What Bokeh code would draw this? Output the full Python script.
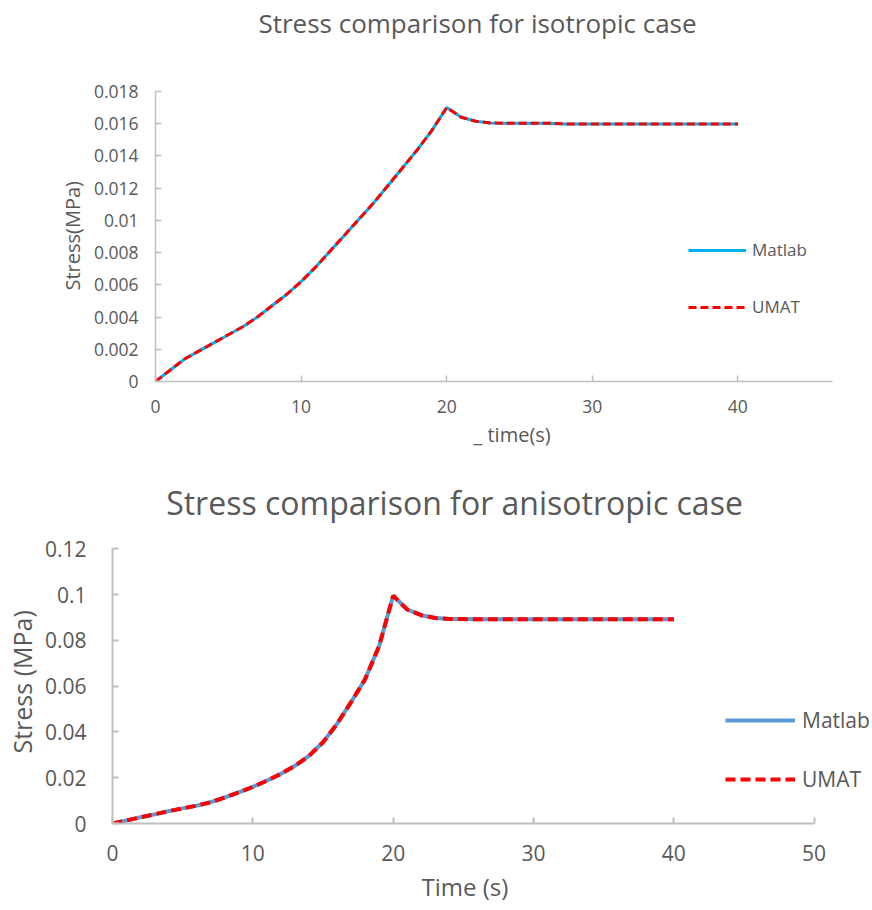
from bokeh.plotting import figure
from bokeh.models import Range1d, FixedTicker, Legend, LegendItem, Label, Title
from bokeh.embed import file_html
from bokeh.resources import INLINE

# ---------------- data ----------------
time_s = list(range(0, 41))

iso_matlab = [0.0000, 0.0007, 0.0014, 0.0019, 0.0024, 0.0029, 0.0034, 0.0040, 0.0047, 0.0054,
              0.0062, 0.0071, 0.0081, 0.0091, 0.0101, 0.0111, 0.0122, 0.0133, 0.0144, 0.0156,
              0.0170, 0.0164, 0.01615, 0.01605, 0.01603, 0.01603, 0.01603, 0.01603, 0.01599, 0.01598,
              0.01598, 0.01598, 0.01598, 0.01598, 0.01598, 0.01598, 0.01598, 0.01598, 0.01598, 0.01598,
              0.01598]
iso_umat = list(iso_matlab)

aniso_matlab = [0.0000, 0.0013, 0.0027, 0.0040, 0.0054, 0.0066, 0.0078, 0.0093, 0.0114, 0.0136,
                0.0160, 0.0187, 0.0217, 0.0252, 0.0295, 0.0355, 0.0435, 0.0530, 0.0630, 0.0775,
                0.0995, 0.0935, 0.0910, 0.0898, 0.0894, 0.0893, 0.0892, 0.0892, 0.0892, 0.0892,
                0.0892, 0.0892, 0.0892, 0.0892, 0.0892, 0.0892, 0.0892, 0.0892, 0.0892, 0.0892,
                0.0892]
aniso_umat = list(aniso_matlab)

iso_xticks = [0, 10, 20, 30, 40]
iso_yticks = [0, 0.002, 0.004, 0.006, 0.008, 0.010, 0.012, 0.014, 0.016, 0.018]
iso_ylabels = ["0", "0.002", "0.004", "0.006", "0.008", "0.01", "0.012", "0.014", "0.016", "0.018"]

aniso_xticks = [0, 10, 20, 30, 40, 50]
aniso_yticks = [0, 0.02, 0.04, 0.06, 0.08, 0.10, 0.12]
aniso_ylabels = ["0", "0.02", "0.04", "0.06", "0.08", "0.1", "0.12"]

TXT = "#595959"
AX = "#BFBFBF"
FONT = "Open Sans"


def style(p, tick_size, xstand, ystand, axis_w):
    p.grid.visible = False
    p.outline_line_color = None
    for ax in (p.xaxis[0], p.yaxis[0]):
        ax.axis_line_color = AX
        ax.axis_line_width = axis_w
        ax.major_tick_line_color = AX
        ax.major_tick_line_width = axis_w
        ax.major_tick_in = 6
        ax.major_tick_out = 0
        ax.minor_tick_line_color = None
        ax.major_label_text_font = FONT
        ax.major_label_text_font_size = tick_size
        ax.major_label_text_color = TXT
    p.xaxis[0].major_label_standoff = xstand
    p.yaxis[0].major_label_standoff = ystand


def side_title(p, text, side, size, offset, standoff):
    p.add_layout(Title(text=text, align="left", offset=offset, standoff=standoff,
                       text_font=FONT, text_font_size=size, text_font_style="normal",
                       text_color=TXT), side)


# ---------------- top chart ----------------
# frame covers the title area; axis lines limited with bounds
p1 = figure(width=872, height=460, output_backend="svg", toolbar_location=None,
            x_range=Range1d(0, 46.5), y_range=Range1d(0, 0.023648),
            min_border_left=155, min_border_right=40, min_border_top=0, min_border_bottom=79)

r1a = p1.line(time_s, iso_matlab, line_color="#00B0F0", line_width=3)
r1b = p1.line(time_s, iso_umat, line_color="#FF0000", line_width=3, line_dash="8 4")

p1.xaxis.ticker = FixedTicker(ticks=iso_xticks)
p1.yaxis.ticker = FixedTicker(ticks=iso_yticks)
p1.yaxis.bounds = (0, 0.018)
p1.yaxis.major_label_overrides = {t: s for t, s in zip(iso_yticks, iso_ylabels)}
style(p1, "17.5px", 18, 17, 1.5)
side_title(p1, "Stress(MPa)", "left", "20px", 91, 9)
side_title(p1, "_ time(s)", "below", "20px", 318, 6)

p1.add_layout(Label(x=322, y=359, x_units="screen", y_units="screen",
                    text="Stress comparison for isotropic case", text_align="center",
                    text_baseline="middle", text_font=FONT, text_font_size="26px",
                    text_color=TXT))

leg1 = Legend(items=[LegendItem(label="Matlab", renderers=[r1a]),
                     LegendItem(label="UMAT", renderers=[r1b])],
              location=(533, 63), orientation="vertical",
              glyph_width=58, glyph_height=20, label_height=20, spacing=34,
              padding=0, margin=0, border_line_color=None, background_fill_alpha=0,
              label_standoff=6, label_text_font=FONT, label_text_font_size="17px",
              label_text_color=TXT)
p1.add_layout(leg1)

# ---------------- bottom chart ----------------
p2 = figure(width=872, height=450, output_backend="svg", toolbar_location=None,
            x_range=Range1d(0, 54.16), y_range=Range1d(0, 0.1586),
            min_border_left=111, min_border_right=0, min_border_top=0, min_border_bottom=87)

r2a = p2.line(time_s, aniso_matlab, line_color="#5B9BD5", line_width=4)
r2b = p2.line(time_s, aniso_umat, line_color="#FF0000", line_width=4, line_dash="10 5")

p2.xaxis.ticker = FixedTicker(ticks=aniso_xticks)
p2.yaxis.ticker = FixedTicker(ticks=aniso_yticks)
p2.xaxis.bounds = (0, 50)
p2.yaxis.bounds = (0, 0.12)
p2.yaxis.major_label_overrides = {t: s for t, s in zip(aniso_yticks, aniso_ylabels)}
style(p2, "21px", 21, 26, 2)
side_title(p2, "Stress (MPa)", "left", "25px", 70, 5)
side_title(p2, "Time (s)", "below", "24px", 309, 9)

p2.add_layout(Label(x=342, y=321, x_units="screen", y_units="screen",
                    text="Stress comparison for anisotropic case", text_align="center",
                    text_baseline="middle", text_font=FONT, text_font_size="32px",
                    text_color=TXT))

leg2 = Legend(items=[LegendItem(label="Matlab", renderers=[r2a]),
                     LegendItem(label="UMAT", renderers=[r2b])],
              location=(613, 30), orientation="vertical",
              glyph_width=70, glyph_height=20, label_height=20, spacing=31,
              padding=0, margin=0, border_line_color=None, background_fill_alpha=0,
              label_standoff=7, label_text_font=FONT, label_text_font_size="21px",
              label_text_color=TXT)
p2.add_layout(leg2)

# two separate roots so that the plot frames are not aligned to each other
open("out.html", "w").write(file_html((p1, p2), INLINE))
